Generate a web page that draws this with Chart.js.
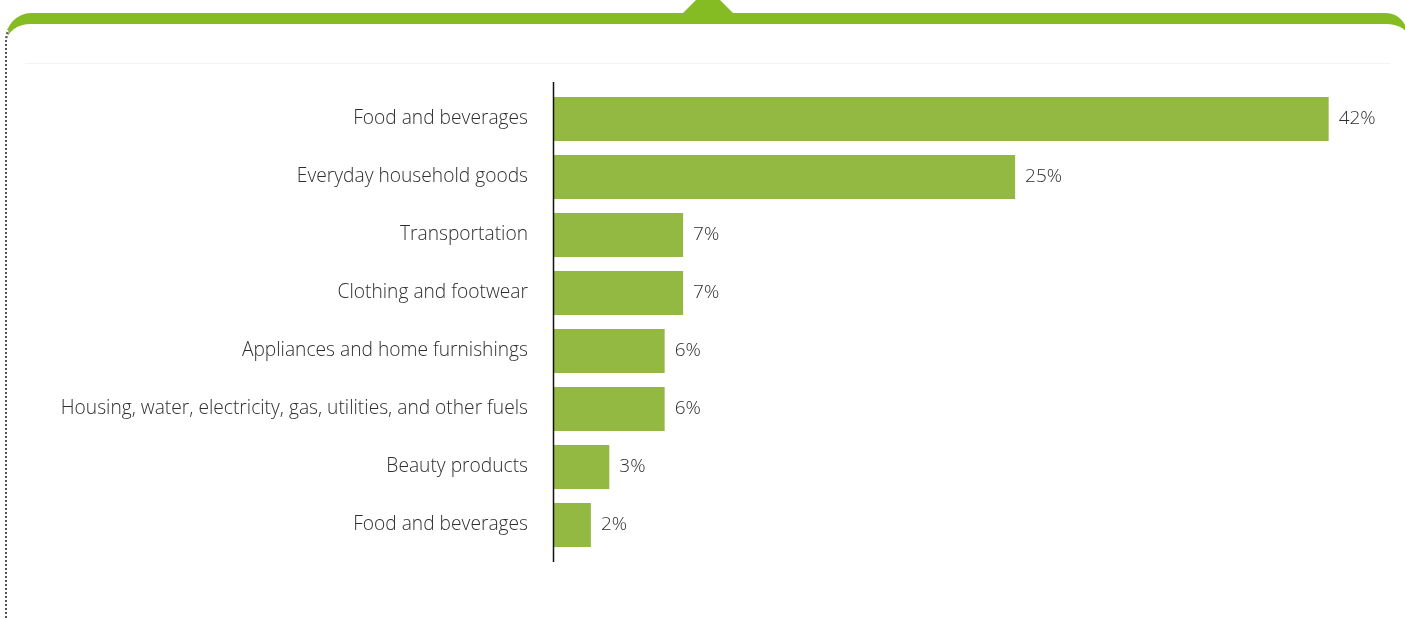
<!DOCTYPE html>
<html>
<head>
<meta charset="utf-8">
<script src="https://cdn.jsdelivr.net/npm/chart.js@4"></script>
<style>
  html, body { margin: 0; padding: 0; background: #fff; overflow: hidden; }
  #page { position: relative; width: 1405px; height: 619px; overflow: hidden; }
  .frame {
    position: absolute; left: 5px; top: 13px; width: 1403px; height: 700px;
    border-top: 11px solid #85bc23;
    border-left: 2px dotted #555;
    border-right: 0;
    border-top-left-radius: 26px 28px;
    border-top-right-radius: 22px 24px;
    box-sizing: border-box;
  }
  .notch {
    position: absolute; left: 683px; top: -12px; width: 0; height: 0;
    border-left: 25px solid transparent;
    border-right: 25px solid transparent;
    border-bottom: 25px solid #85bc23;
  }
  .rule { position: absolute; left: 25px; top: 63px; width: 1365px; height: 1px; background: #f3f3f3; }
  #wrap { position: absolute; left: 0; top: 0; width: 1405px; height: 619px; }
</style>
</head>
<body>
<div id="page">
  <div class="frame"></div>
  <div class="notch"></div>
  <div class="rule"></div>
  <div id="wrap"><canvas id="spendChart"></canvas></div>
</div>
<script>
const categories = [
    'Food and beverages',
    'Everyday household goods',
    'Transportation',
    'Clothing and footwear',
    'Appliances and home furnishings',
    'Housing, water, electricity, gas, utilities, and other fuels',
    'Beauty products',
    'Food and beverages'
];
const shares = [42, 25, 7, 7, 6, 6, 3, 2];

const axisLine = {
    id: 'axisLine',
    afterDatasetsDraw(chart) {
        const c = chart.ctx;
        const area = chart.chartArea;
        c.save();
        c.strokeStyle = '#111';
        c.lineWidth = 1.5;
        c.beginPath();
        c.moveTo(area.left - 0.5, area.top - 8);
        c.lineTo(area.left - 0.5, area.bottom + 8);
        c.stroke();
        c.restore();
    }
};

const valueLabels = {
    id: 'valueLabels',
    afterDatasetsDraw(chart) {
        const c = chart.ctx;
        const meta = chart.getDatasetMeta(0);
        c.save();
        c.font = '300 19px "Open Sans"';
        c.fillStyle = '#2e2e2e';
        c.textAlign = 'left';
        c.textBaseline = 'middle';
        meta.data.forEach((bar, i) => {
            c.fillText(shares[i] + '%', bar.x + 10, bar.y);
        });
        c.restore();
    }
};

const ctx = document.getElementById('spendChart').getContext('2d');
new Chart(ctx, {
    type: 'bar',
    data: {
        labels: categories,
        datasets: [{
            data: shares,
            backgroundColor: '#93b942',
            barPercentage: 0.76,
            categoryPercentage: 1
        }]
    },
    options: {
        indexAxis: 'y',
        responsive: true,
        maintainAspectRatio: false,
        animation: false,
        layout: { padding: { left: 0, right: 21, top: 90, bottom: 65 } },
        plugins: {
            legend: { display: false },
            tooltip: { enabled: false }
        },
        scales: {
            x: {
                min: 0,
                max: 45,
                display: false,
                grid: { display: false }
            },
            y: {
                grid: { display: false, drawTicks: false },
                border: { display: false },
                ticks: {
                    padding: 26,
                    color: '#2e2e2e',
                    font: { family: 'Open Sans', size: 19.2, weight: '300' }
                },
                afterFit: function (scale) {
                    scale.width = 554;
                }
            }
        }
    },
    plugins: [axisLine, valueLabels]
});
</script>
</body>
</html>
